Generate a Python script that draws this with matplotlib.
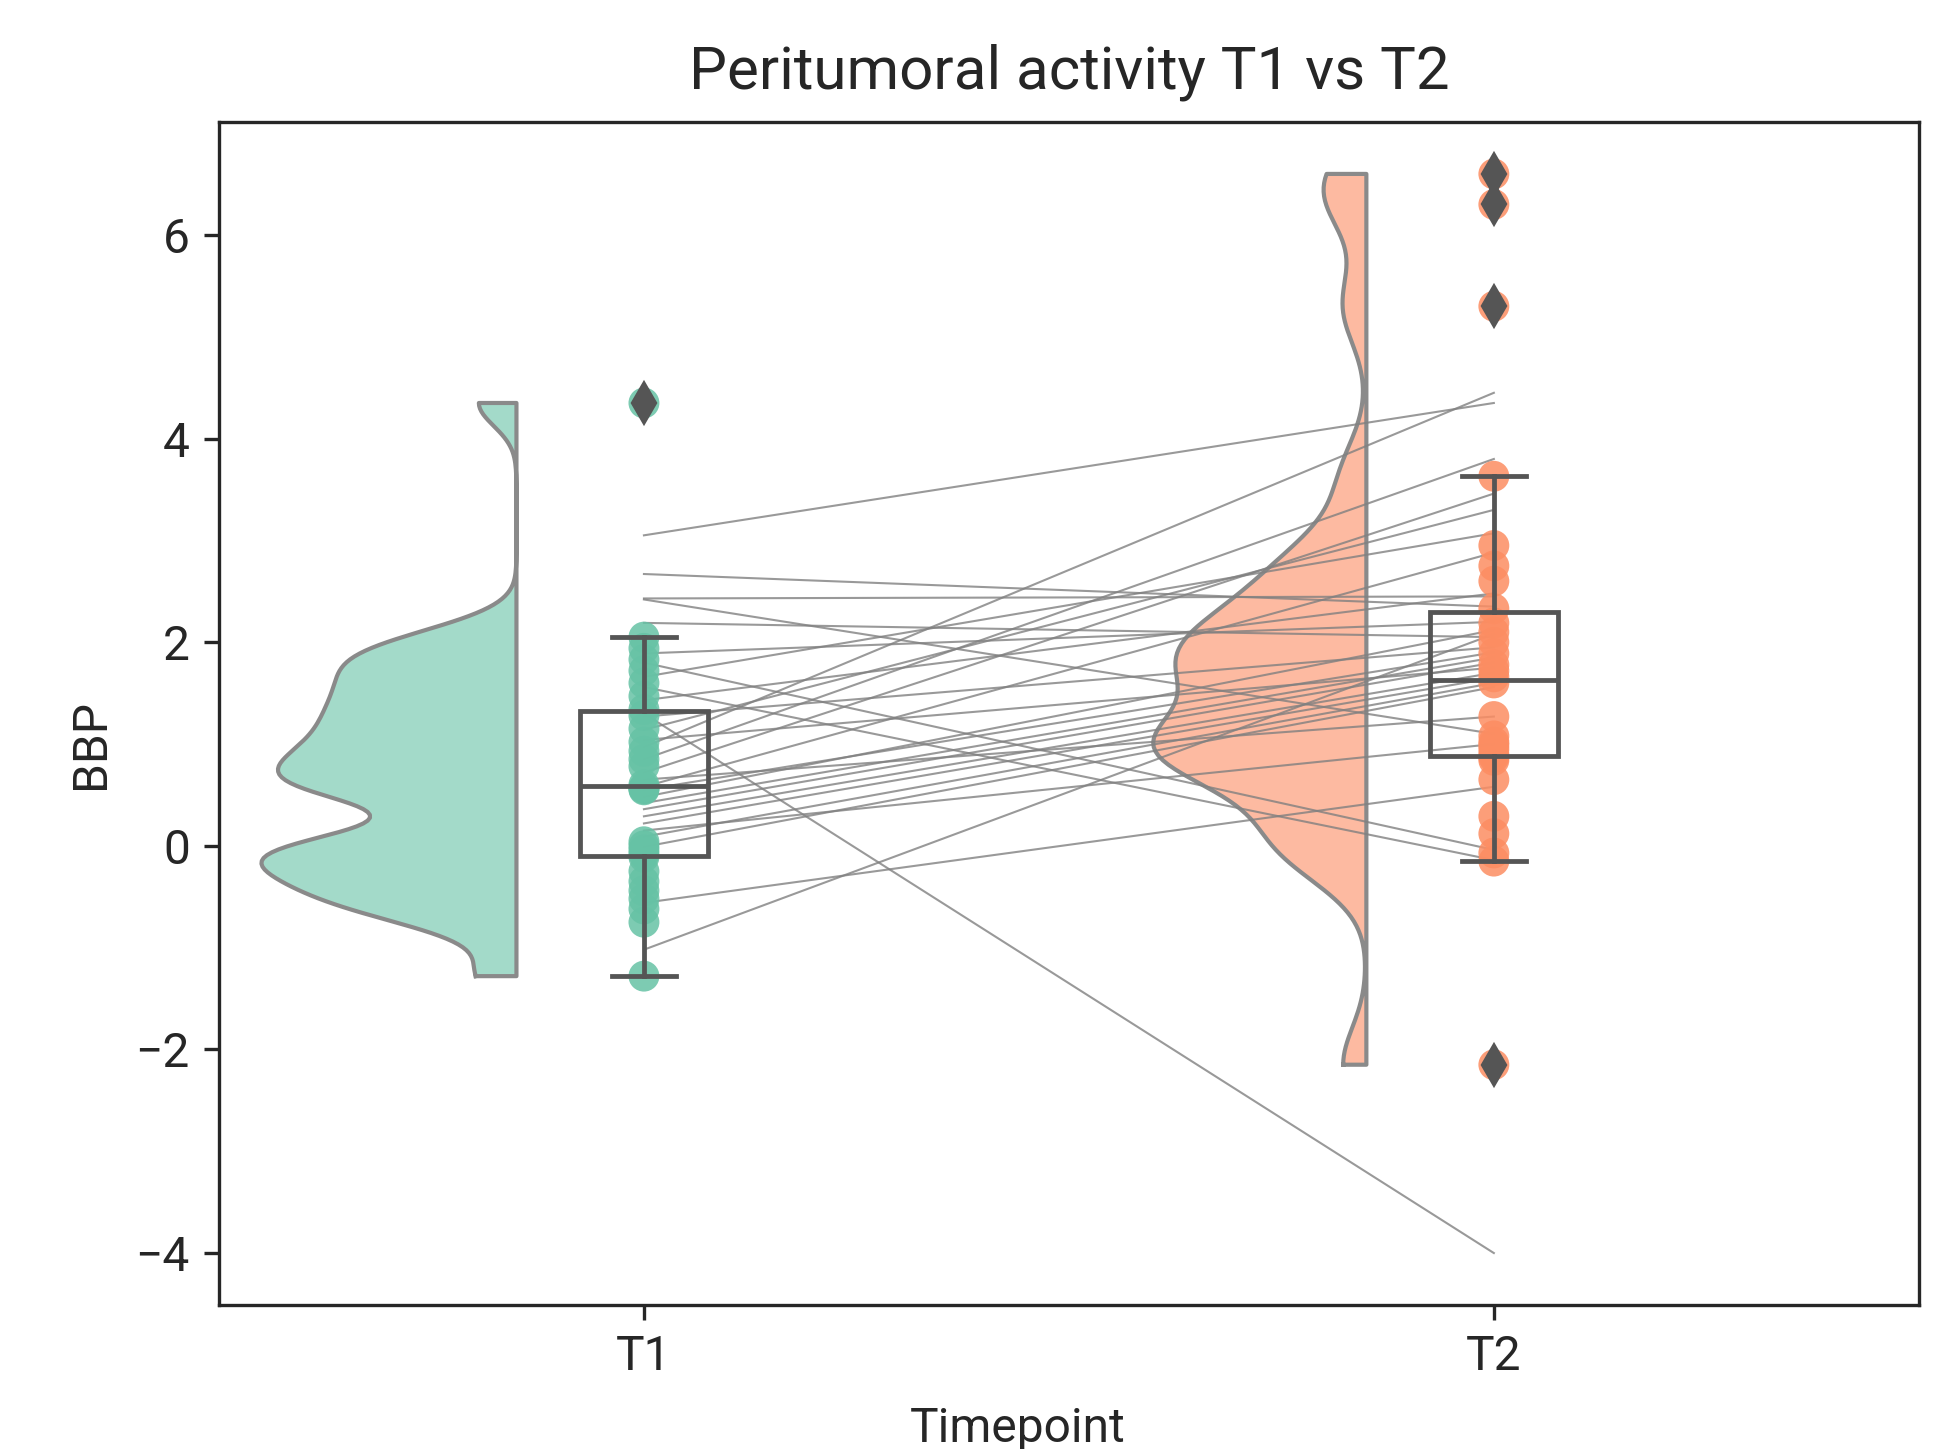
import numpy as np
import matplotlib.pyplot as plt

plt.rcParams['font.family'] = ['Roboto', 'DejaVu Sans']

# timepoint names
groups = ['T1', 'T2']

# strip / box / violin values per timepoint (BBP)
t1_vals = [-1.28, -0.75, -0.62, -0.52, -0.44, -0.35, -0.25, -0.11, -0.08, -0.04,
           0.00, 0.04, 0.55, 0.56, 0.57, 0.60, 0.78, 0.85, 0.93, 1.02,
           1.15, 1.28, 1.34, 1.47, 1.60, 1.72, 1.83, 1.94, 2.05, 4.35]
t2_vals = [-2.15, -0.15, -0.07, 0.12, 0.29, 0.65, 0.84, 0.87, 0.90, 0.95,
           0.99, 1.02, 1.08, 1.27, 1.60, 1.66, 1.72, 1.78, 1.89, 2.00,
           2.10, 2.19, 2.33, 2.60, 2.75, 2.95, 3.63, 5.30, 6.30, 6.60]

# paired lines, T1 -> T2
pair_t1 = [3.05, 0.97, 2.67, 2.43, 2.42, 2.19, 1.89, 1.80, 1.66, 1.56,
           1.43, 1.30, 1.27, 1.14, 1.04, 0.85, 0.72, 0.65, 0.58, 0.55,
           0.48, 0.42, 0.36, 0.29, 0.22, 0.15, 0.09, -0.01, -0.56, -1.02]
pair_t2 = [4.35, 4.45, 2.35, 2.45, 1.10, 2.05, 2.20, -0.04, 3.07, -0.14,
           2.48, -4.00, 1.95, 3.30, 1.75, 3.80, 3.46, 1.27, 2.88, 1.90,
           2.12, 1.85, 1.80, 1.70, 1.65, 1.00, 1.60, 1.56, 0.58, 2.08]

colors = ['#66c2a5', '#fc8d62']
data = [np.array(t1_vals), np.array(t2_vals)]


def kde(vals, n=200, bw=0.2):
    h = bw * vals.std(ddof=1)
    grid = np.linspace(vals.min(), vals.max(), n)
    z = (grid[:, None] - vals[None, :]) / h
    dens = np.exp(-0.5 * z ** 2).sum(axis=1) / (len(vals) * h * np.sqrt(2 * np.pi))
    return grid, dens


fig, ax = plt.subplots(figsize=(6.5, 4.83), dpi=300)
fig.subplots_adjust(left=0.1123, right=0.984, top=0.9158, bottom=0.0994)

# half violins (scale = area -> common max)
kdes = [kde(d) for d in data]
gmax = max(k[1].max() for k in kdes)
for i, (grid, dens) in enumerate(kdes):
    w = dens / gmax * 0.30
    edge = i - 0.15
    xs = np.concatenate([edge - w, [edge, edge]])
    ys = np.concatenate([grid, [grid[-1], grid[0]]])
    ax.fill(xs, ys, facecolor=colors[i], alpha=0.6, edgecolor='none', zorder=1)
    ax.plot(xs.tolist() + [xs[0]], ys.tolist() + [ys[0]], color='#8a8a8a', lw=1.0, zorder=1.5)

# subject lines
for a, b in zip(pair_t1, pair_t2):
    ax.plot([0, 1], [a, b], color='grey', lw=0.5, alpha=0.8, zorder=2)

# points
for i, d in enumerate(data):
    ax.scatter(np.full(len(d), i), d, s=55, color=colors[i], alpha=0.85,
               edgecolors='none', zorder=3)

# boxes
box_c = '#555555'
ax.boxplot(data, positions=[0, 1], widths=0.15, patch_artist=True,
           boxprops=dict(facecolor='none', edgecolor=box_c, linewidth=1.15),
           whiskerprops=dict(color=box_c, linewidth=1.15),
           capprops=dict(color=box_c, linewidth=1.15),
           medianprops=dict(color=box_c, linewidth=1.15),
           flierprops=dict(marker='d', markerfacecolor=box_c, markeredgecolor=box_c,
                           markersize=6.5),
           zorder=4)

ax.set_xlim(-0.5, 1.5)
ax.set_ylim(-4.51, 7.11)
ax.set_xticks([0, 1])
ax.set_xticklabels(groups)
ax.set_yticks([-4, -2, 0, 2, 4, 6])
ax.tick_params(labelsize=11.5, colors='#262626')
ax.set_xlabel('Timepoint', fontsize=11.5, color='#262626')
ax.set_ylabel('BBP', fontsize=11.5, color='#262626')
ax.xaxis.set_label_coords(0.47, -0.085)
ax.yaxis.set_label_coords(-0.062, 0.474)
ax.set_title('Peritumoral activity T1 vs T2', fontsize=14.4, color='#262626', pad=8)
for s in ax.spines.values():
    s.set_color('#262626')

fig.savefig('out.png', dpi=300)
